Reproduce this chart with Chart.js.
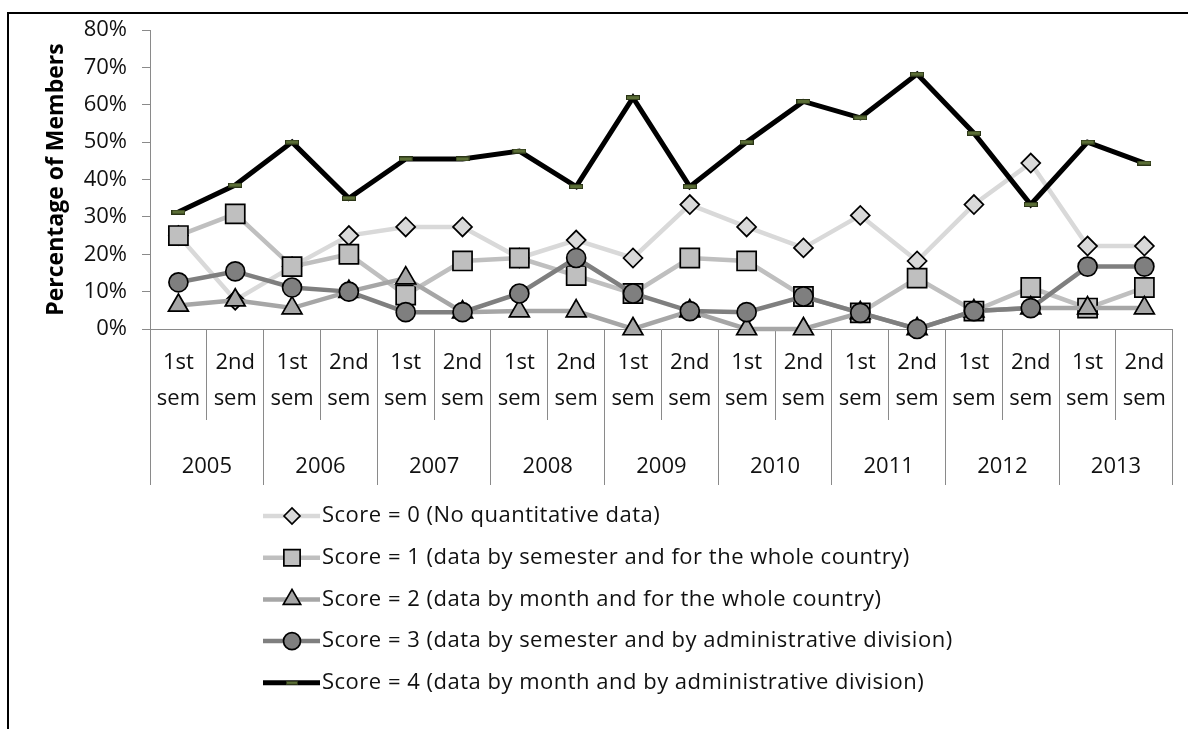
<!DOCTYPE html>
<html lang="en">
  <head>
    <meta charset="UTF-8" />
    <title>Percentage of Members by Score</title>
    <style>
      body { margin: 0; background: #fff; }
      #frame {
        position: absolute;
        left: 7px;
        top: 12px;
        width: 1181px;
        height: 717px;
        border-top: 2px solid #000;
        border-left: 2px solid #000;
      }
      #chartContainer { position: absolute; left: 0; top: 0; }
    </style>
  </head>
  <body>
    <div id="frame"></div>
    <div id="chartContainer">
      <canvas id="chart" width="1188" height="729"></canvas>
    </div>

    <script src="https://cdn.jsdelivr.net/npm/chart.js@4/dist/chart.umd.min.js"></script>
    <script>
      const years = ["2005", "2006", "2007", "2008", "2009", "2010", "2011", "2012", "2013"];
      const semesters = years.flatMap(() => [["1st", "sem"], ["2nd", "sem"]]);
      const yTicks = [0, 10, 20, 30, 40, 50, 60, 70, 80];

      // share of members (%) per semester, one array per score
      const score0 = [25.0, 7.7, 16.7, 25.0, 27.3, 27.3, 19.0, 23.8, 19.0, 33.3, 27.3, 21.7, 30.4, 18.2, 33.3, 44.4, 22.2, 22.2];
      const score1 = [25.0, 30.8, 16.7, 20.0, 9.1, 18.2, 19.0, 14.3, 9.5, 19.0, 18.2, 8.7, 4.3, 13.6, 4.8, 11.1, 5.6, 11.1];
      const score2 = [6.3, 7.7, 5.6, 10.0, 13.6, 4.5, 4.8, 4.8, 0, 4.8, 0, 0, 4.3, 0, 4.8, 5.6, 5.6, 5.6];
      const score3 = [12.5, 15.4, 11.1, 10.0, 4.5, 4.5, 9.5, 19.0, 9.5, 4.8, 4.5, 8.7, 4.3, 0, 4.8, 5.6, 16.7, 16.7];
      const score4 = [31.3, 38.5, 50.0, 35.0, 45.5, 45.5, 47.6, 38.1, 61.9, 38.1, 50.0, 60.9, 56.5, 68.2, 52.4, 33.3, 50.0, 44.4];

      const seriesNames = [
        "Score = 0 (No quantitative data)",
        "Score = 1 (data by semester and for the whole country)",
        "Score = 2 (data by month and for the whole country)",
        "Score = 3 (data by semester and by administrative division)",
        "Score = 4 (data by month and by administrative division)",
      ];

      const FONT = '"Open Sans", "Noto Sans", sans-serif';
      const AXIS_GRAY = "#8a8a8a";

      // small olive dash used as the score 4 marker
      const dashMarker = (w, h) => {
        const c = document.createElement("canvas");
        c.width = w;
        c.height = h;
        const g = c.getContext("2d");
        g.fillStyle = "#5b6e36";
        g.fillRect(0, 0, w, h);
        g.strokeStyle = "#2a3416";
        g.lineWidth = 1;
        g.strokeRect(0.5, 0.5, w - 1, h - 1);
        return c;
      };

      const makeSeries = (label, data, style) => ({
        label,
        data,
        clip: false,
        borderWidth: 4.5,
        pointBorderColor: "#000",
        pointBorderWidth: 1.7,
        pointHoverRadius: style.pointRadius,
        ...style,
      });

      const datasets = [
        makeSeries(seriesNames[0], score0, {
          order: 4, borderColor: "#d9d9d9", pointBackgroundColor: "#d9d9d9",
          pointStyle: "rectRot", pointRadius: 9.5, legendRadius: 8,
        }),
        makeSeries(seriesNames[1], score1, {
          order: 3, borderColor: "#bfbfbf", pointBackgroundColor: "#bfbfbf",
          pointStyle: "rect", pointRadius: 13.5, legendRadius: 11.5,
        }),
        makeSeries(seriesNames[2], score2, {
          order: 2, borderColor: "#a6a6a6", pointBackgroundColor: "#a6a6a6",
          pointStyle: "triangle", pointRadius: 11.5, legendRadius: 10,
        }),
        makeSeries(seriesNames[3], score3, {
          order: 1, borderColor: "#7f7f7f", pointBackgroundColor: "#7f7f7f",
          pointStyle: "circle", pointRadius: 9.5, legendRadius: 8.5,
        }),
        makeSeries(seriesNames[4], score4, {
          order: 0, borderColor: "#000", borderWidth: 5, pointBackgroundColor: "#5b6e36",
          pointBorderColor: "#2a3416", pointBorderWidth: 1,
          pointStyle: dashMarker(14, 5), pointRadius: 7, legendRadius: 7,
          legendStyle: dashMarker(12, 4),
        }),
      ];

      // legend stacked under the axis, one row per score
      const scoreLegend = {
        id: "scoreLegend",
        afterDraw(chart) {
          const ctx = chart.ctx;
          ctx.save();
          ctx.font = "22px " + FONT;
          ctx.letterSpacing = "0.5px";
          ctx.textBaseline = "middle";
          chart.data.datasets.forEach((ds, i) => {
            const y = 516 + i * 41.7;
            ctx.strokeStyle = ds.borderColor;
            ctx.lineWidth = ds.borderWidth;
            ctx.beginPath();
            ctx.moveTo(263, y);
            ctx.lineTo(320, y);
            ctx.stroke();

            ctx.fillStyle = ds.pointBackgroundColor;
            ctx.strokeStyle = ds.pointBorderColor;
            ctx.lineWidth = ds.pointBorderWidth;
            Chart.helpers.drawPoint(
              ctx,
              {
                pointStyle: ds.legendStyle || ds.pointStyle,
                radius: ds.legendRadius,
                rotation: 0,
                borderWidth: ds.pointBorderWidth,
              },
              292,
              y
            );

            ctx.fillStyle = "#111";
            ctx.fillText(ds.label, 322, y);
          });
          ctx.restore();
        },
      };

      const chart = new Chart(document.querySelector("#chart"), {
        type: "line",
        data: { labels: semesters, datasets },
        plugins: [scoreLegend],
        options: {
          responsive: false,
          devicePixelRatio: 1,
          animation: false,
          layout: { padding: { left: 0, top: 30, right: 11, bottom: 244 } },
          plugins: { legend: { display: false }, tooltip: { enabled: false } },
          elements: { line: { tension: 0 } },
          scales: {
            y: {
              min: 0,
              max: 80,
              afterBuildTicks: (scale) => {
                scale.ticks = yTicks.map((v) => ({ value: v }));
              },
              afterFit: (scale) => {
                scale.width = 150;
              },
              ticks: {
                callback: (v) => v + "%",
                font: { family: FONT, size: 22 },
                color: "#111",
                padding: 15,
              },
              grid: { drawOnChartArea: false, tickLength: 8, color: AXIS_GRAY },
              border: { color: AXIS_GRAY },
              title: {
                display: true,
                text: "Percentage of Members",
                font: { family: FONT, size: 23, weight: "bold" },
                color: "#000",
                padding: { top: 43, bottom: 0 },
              },
            },
            x: {
              type: "category",
              weight: 1,
              offset: true,
              afterFit: (scale) => {
                scale.height = 91;
              },
              ticks: {
                autoSkip: false,
                maxRotation: 0,
                font: { family: FONT, size: 22, lineHeight: 1.64 },
                color: "#111",
                padding: -75,
              },
              grid: { offset: true, drawOnChartArea: false, tickLength: 91, color: AXIS_GRAY },
              border: { color: AXIS_GRAY },
            },
            x2: {
              type: "category",
              position: "bottom",
              weight: 2,
              labels: years,
              offset: true,
              afterFit: (scale) => {
                scale.height = 65;
              },
              ticks: {
                autoSkip: false,
                maxRotation: 0,
                font: { family: FONT, size: 22 },
                color: "#111",
                padding: -31,
              },
              grid: { offset: true, drawOnChartArea: false, tickLength: 65, color: AXIS_GRAY },
              border: { display: false },
            },
          },
        },
      });
    </script>
  </body>
</html>
